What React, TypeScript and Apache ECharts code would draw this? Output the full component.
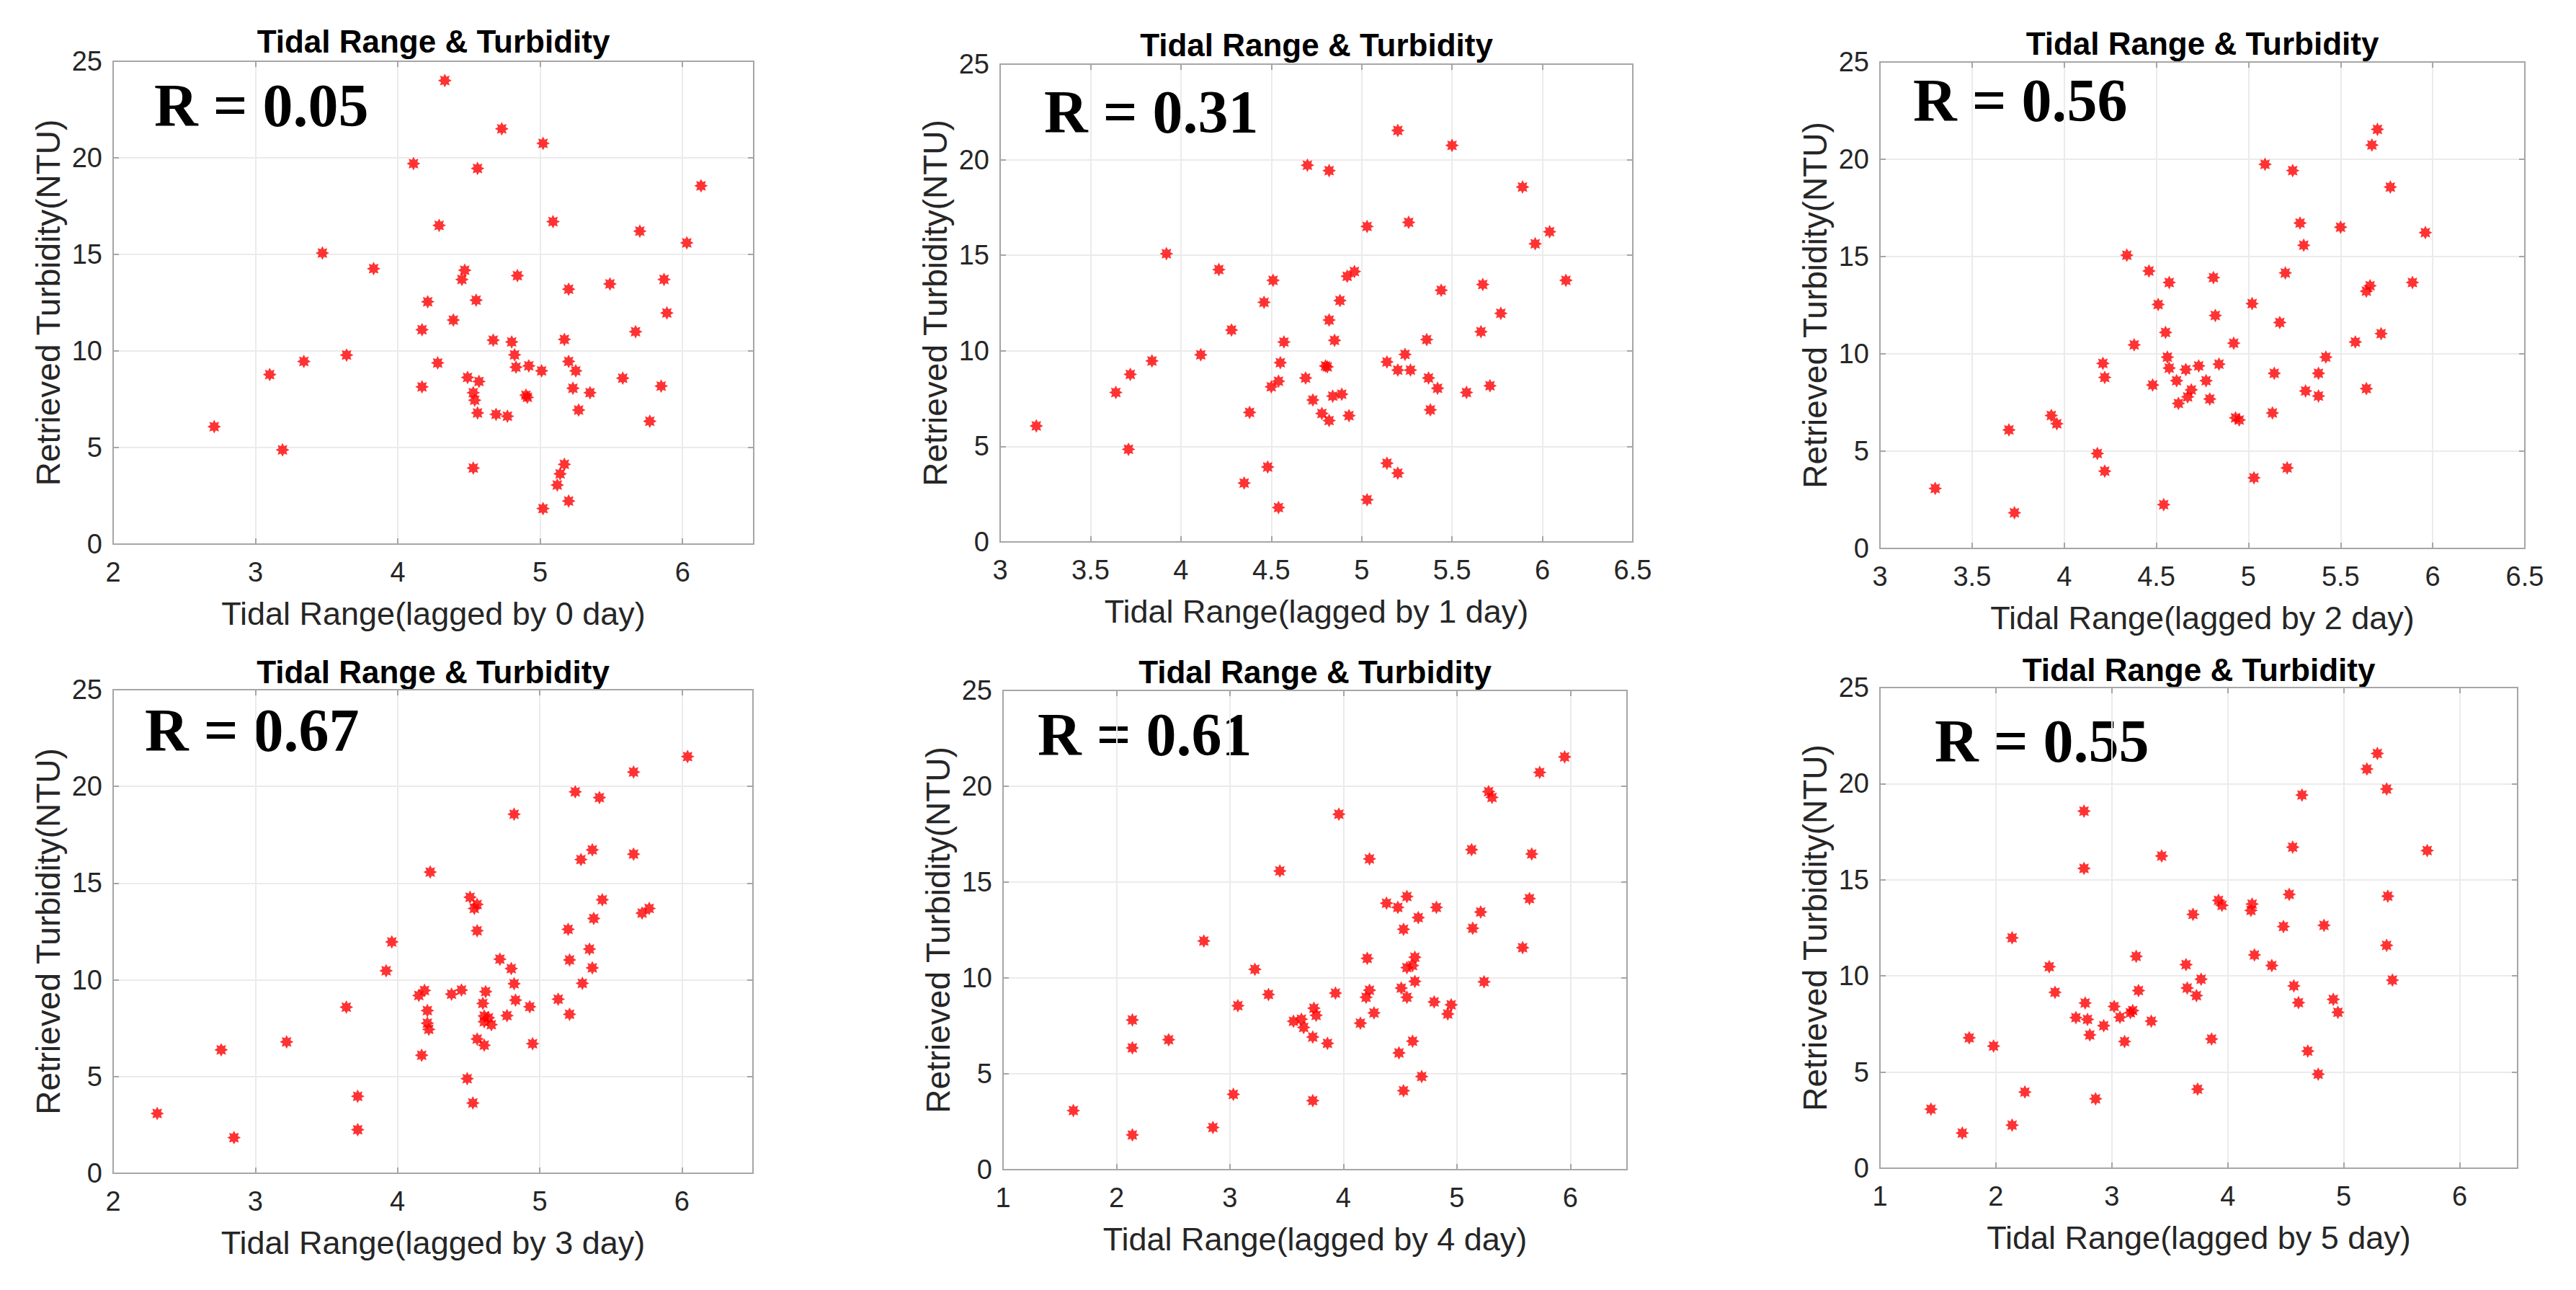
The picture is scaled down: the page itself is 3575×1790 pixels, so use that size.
import React, { useEffect, useRef } from "react";
import * as echarts from "echarts";

// ---------- data ----------
const lag0Tide = [4.33, 4.73, 5.02, 4.11, 4.56, 6.13, 5.09, 4.29, 5.70, 6.03, 3.47, 3.83, 4.47, 4.45, 4.84, 5.87, 5.49, 5.20, 4.21, 4.55, 5.89, 4.39, 4.17, 5.67, 4.67, 4.80, 5.17, 3.64, 4.82, 3.34, 5.20, 4.28, 4.92, 4.83, 5.01, 5.25, 3.10, 4.49, 4.57, 5.58, 4.17, 5.23, 5.85, 5.35, 4.90, 4.91, 4.53, 4.54, 4.56, 4.69, 4.77, 5.27, 5.77, 2.71, 3.19, 4.53, 5.17, 5.14, 5.12, 5.20, 5.02];
const lag0Turb = [24.0, 21.5, 20.75, 19.7, 19.45, 18.55, 16.7, 16.5, 16.2, 15.6, 15.07, 14.26, 14.18, 13.7, 13.9, 13.7, 13.47, 13.2, 12.55, 12.63, 11.97, 11.6, 11.1, 11.0, 10.56, 10.47, 10.6, 9.79, 9.8, 9.46, 9.46, 9.38, 9.23, 9.16, 8.97, 8.97, 8.78, 8.63, 8.42, 8.59, 8.14, 8.07, 8.18, 7.84, 7.71, 7.6, 7.84, 7.45, 6.79, 6.72, 6.62, 6.94, 6.36, 6.08, 4.88, 3.94, 4.13, 3.64, 3.06, 2.23, 1.84];

const lag1Tide = [5.20, 5.50, 4.70, 4.82, 5.89, 5.03, 5.26, 6.04, 5.96, 3.92, 4.21, 4.96, 4.92, 4.51, 6.13, 5.67, 5.44, 4.46, 4.88, 5.77, 4.82, 4.28, 5.66, 4.57, 4.85, 5.36, 4.11, 5.24, 3.84, 4.55, 5.14, 4.80, 4.81, 5.20, 5.27, 3.72, 4.69, 5.37, 4.54, 4.50, 5.42, 5.71, 3.64, 5.58, 4.84, 4.89, 4.73, 4.38, 4.78, 4.82, 4.93, 5.38, 3.20, 3.71, 4.48, 5.14, 5.20, 4.35, 5.03, 4.54];
const lag1Turb = [21.53, 20.75, 19.71, 19.43, 18.57, 16.51, 16.72, 16.23, 15.6, 15.08, 14.25, 14.15, 13.9, 13.69, 13.69, 13.47, 13.17, 12.54, 12.63, 11.96, 11.61, 11.09, 11.0, 10.46, 10.55, 10.59, 9.79, 9.81, 9.47, 9.38, 9.42, 9.21, 9.16, 8.99, 8.99, 8.77, 8.58, 8.58, 8.41, 8.12, 8.04, 8.17, 7.82, 7.82, 7.63, 7.73, 7.43, 6.78, 6.72, 6.35, 6.61, 6.91, 6.07, 4.85, 3.92, 4.12, 3.60, 3.08, 2.21, 1.80];

const lag2Tide = [5.70, 5.67, 5.09, 5.24, 5.77, 5.28, 5.50, 5.96, 5.30, 4.34, 4.46, 5.20, 4.81, 4.57, 5.89, 5.66, 5.64, 4.51, 5.02, 4.82, 5.17, 4.55, 5.72, 4.38, 4.92, 5.58, 4.56, 5.42, 4.21, 4.84, 4.73, 4.57, 4.66, 5.14, 5.38, 4.22, 4.61, 4.77, 4.48, 4.69, 5.31, 5.64, 4.67, 5.38, 4.79, 4.62, 5.13, 3.93, 3.96, 4.93, 4.95, 3.70, 4.18, 4.22, 5.21, 5.03, 3.30, 4.54, 3.73];
const lag2Turb = [21.54, 20.73, 19.74, 19.42, 18.57, 16.72, 16.51, 16.23, 15.58, 15.07, 14.26, 14.16, 13.92, 13.67, 13.67, 13.5, 13.22, 12.54, 12.58, 11.97, 11.61, 11.1, 11.04, 10.46, 10.55, 10.61, 9.83, 9.83, 9.51, 9.47, 9.38, 9.27, 9.19, 9.0, 9.0, 8.79, 8.62, 8.62, 8.4, 8.15, 8.09, 8.21, 7.79, 7.83, 7.68, 7.45, 6.96, 6.83, 6.41, 6.71, 6.6, 6.09, 4.88, 3.97, 4.14, 3.63, 3.08, 2.25, 1.83];

const lag3Tide = [6.04, 5.66, 5.25, 5.42, 4.82, 5.37, 5.66, 5.29, 4.23, 4.51, 5.44, 4.56, 4.54, 5.77, 5.72, 5.38, 4.56, 5.20, 3.96, 5.35, 4.72, 5.21, 3.92, 4.80, 5.37, 4.82, 5.30, 4.19, 4.45, 4.15, 4.38, 4.62, 5.13, 4.83, 3.64, 4.93, 4.21, 4.60, 4.77, 5.21, 4.61, 4.64, 4.61, 4.21, 4.66, 4.22, 4.56, 4.95, 3.22, 4.61, 4.17, 2.76, 4.49, 3.72, 4.53, 2.31, 3.72, 2.85];
const lag3Turb = [21.54, 20.74, 19.72, 19.42, 18.56, 16.72, 16.5, 16.22, 15.57, 14.27, 14.14, 13.9, 13.69, 13.69, 13.45, 13.17, 12.54, 12.61, 11.96, 11.59, 11.07, 11.03, 10.47, 10.58, 10.62, 9.8, 9.82, 9.45, 9.47, 9.19, 9.26, 9.39, 9.0, 8.95, 8.59, 8.61, 8.41, 8.78, 8.15, 8.22, 8.13, 8.04, 7.83, 7.76, 7.68, 7.44, 6.94, 6.7, 6.79, 6.62, 6.1, 6.38, 4.89, 3.98, 3.63, 3.09, 2.25, 1.84];

const lag4Tide = [5.95, 5.73, 5.28, 5.31, 3.96, 5.13, 5.66, 4.23, 3.44, 4.56, 5.64, 4.38, 4.48, 4.82, 5.21, 4.66, 4.53, 5.14, 2.77, 5.58, 4.21, 4.63, 3.22, 4.56, 4.61, 4.63, 5.24, 4.51, 4.23, 3.93, 3.34, 4.20, 4.56, 3.07, 4.80, 4.95, 3.74, 4.92, 3.76, 4.27, 3.56, 3.63, 3.65, 4.15, 3.73, 4.61, 2.46, 2.14, 3.86, 2.14, 4.49, 4.69, 3.03, 4.53, 3.73, 1.62, 2.85, 2.14];
const lag4Turb = [21.53, 20.72, 19.72, 19.42, 18.54, 16.69, 16.47, 16.21, 15.58, 14.25, 14.14, 13.9, 13.68, 13.68, 13.44, 13.15, 12.54, 12.59, 11.93, 11.58, 11.02, 11.08, 10.45, 10.54, 10.65, 9.82, 9.8, 9.47, 9.36, 9.21, 9.14, 8.99, 8.99, 8.55, 8.75, 8.6, 8.42, 8.12, 8.05, 8.18, 7.74, 7.85, 7.42, 7.64, 6.92, 6.7, 6.78, 6.35, 6.59, 7.81, 6.09, 4.86, 3.93, 4.12, 3.6, 3.08, 2.2, 1.81];

const lag5Tide = [5.29, 5.20, 5.37, 4.64, 2.76, 4.56, 5.72, 3.43, 2.76, 4.53, 5.38, 3.92, 3.95, 4.21, 4.20, 3.70, 4.48, 4.83, 2.14, 5.37, 3.21, 4.23, 2.46, 3.64, 4.38, 3.77, 5.42, 4.57, 3.65, 2.51, 3.23, 3.73, 4.91, 2.77, 4.61, 3.02, 4.95, 3.16, 3.18, 2.69, 2.79, 3.07, 3.34, 2.93, 2.81, 3.86, 3.11, 1.77, 1.98, 4.69, 4.78, 2.25, 3.74, 2.86, 1.44, 2.14, 1.71];
const lag5Turb = [21.57, 20.76, 19.72, 19.41, 18.57, 16.7, 16.52, 16.24, 15.59, 14.24, 14.15, 13.93, 13.67, 13.74, 13.41, 13.2, 12.57, 12.63, 11.98, 11.59, 11.02, 11.09, 10.48, 10.59, 10.54, 9.83, 9.78, 9.48, 9.37, 9.15, 9.24, 8.98, 8.78, 8.59, 8.61, 8.41, 8.11, 8.09, 8.2, 7.83, 7.74, 7.85, 7.65, 7.41, 6.93, 6.72, 6.59, 6.78, 6.35, 6.09, 4.89, 3.96, 4.11, 3.61, 3.07, 2.24, 1.83];

const correlations = ["0.05", "0.31", "0.56", "0.67", "0.61", "0.55"];
const lagDays = [0, 1, 2, 3, 4, 5];
const xMins = [2, 3, 3, 2, 1, 1];
const xMaxs = [6.5, 6.5, 6.5, 6.5, 6.5, 6.5];
const xSteps = [1, 0.5, 0.5, 1, 1, 1];
const yTicks = [0, 5, 10, 15, 20, 25];
const titleText = "Tidal Range & Turbidity";
const yName = "Retrieved Turbidity(NTU)";

const tides = [lag0Tide, lag1Tide, lag2Tide, lag3Tide, lag4Tide, lag5Tide];
const turbs = [lag0Turb, lag1Turb, lag2Turb, lag3Turb, lag4Turb, lag5Turb];

// ---------- layout ----------
const grids = [
  { left: 157, top: 85, width: 889, height: 670 },
  { left: 1388, top: 89, width: 878, height: 663 },
  { left: 2609, top: 86, width: 895, height: 675 },
  { left: 157, top: 957, width: 888, height: 671 },
  { left: 1392, top: 958, width: 866, height: 665 },
  { left: 2609, top: 954, width: 885, height: 667 },
];
const titleY = [57, 62, 60, 932, 932, 929];
const rPos = [
  [214, 146],
  [1449, 155],
  [2655, 139],
  [201, 1013],
  [1440, 1019],
  [2685, 1028],
];

const STAR =
  "path://M0,-1L0.23,-0.555L0.707,-0.707L0.555,-0.23L1,0L0.555,0.23L0.707,0.707L0.23,0.555L0,1L-0.23,0.555L-0.707,0.707L-0.555,0.23L-1,0L-0.555,-0.23L-0.707,-0.707L-0.23,-0.555Z";

const FONT = "Liberation Sans";
const TXT = "#262626";
const BOX = "#a6a6a6";

function buildOption() {
  const xAxis: any[] = [];
  const yAxis: any[] = [];
  const series: any[] = [];
  const graphic: any[] = [];
  grids.forEach((g, i) => {
    const base = {
      gridIndex: i,
      type: "value",
      min: xMins[i],
      max: xMaxs[i],
      interval: xSteps[i],
    };
    xAxis.push({
      ...base,
      position: "bottom",
      name: `Tidal Range(lagged by ${lagDays[i]} day)`,
      nameLocation: "middle",
      nameGap: 74,
      nameTextStyle: { fontFamily: FONT, fontSize: 45, color: TXT },
      axisLine: { show: true, onZero: false, lineStyle: { color: BOX, width: 2 } },
      axisTick: { show: true, inside: true, length: 8, lineStyle: { color: BOX, width: 2 } },
      axisLabel: {
        fontFamily: FONT,
        fontSize: 38,
        color: TXT,
        margin: 20,
        formatter: (v: number) => (v === xMaxs[i] && xMaxs[i] % xSteps[i] !== 0 ? "" : String(v)),
      },
      splitLine: { show: true, lineStyle: { color: "#ebebeb", width: 2 } },
    });
    xAxis.push({
      ...base,
      position: "top",
      axisLine: { show: true, onZero: false, lineStyle: { color: BOX, width: 2 } },
      axisTick: { show: true, inside: true, length: 8, lineStyle: { color: BOX, width: 2 } },
      axisLabel: { show: false },
      splitLine: { show: false },
    });
    const ybase = { gridIndex: i, type: "value", min: 0, max: 25, interval: 5 };
    yAxis.push({
      ...ybase,
      position: "left",
      name: yName,
      nameLocation: "middle",
      nameGap: 67,
      nameTextStyle: { fontFamily: FONT, fontSize: 46, color: TXT },
      axisLine: { show: true, onZero: false, lineStyle: { color: BOX, width: 2 } },
      axisTick: { show: true, inside: true, length: 8, lineStyle: { color: BOX, width: 2 } },
      axisLabel: {
        fontFamily: FONT,
        fontSize: 38,
        color: TXT,
        margin: 15,
        formatter: (v: number) => (yTicks.includes(v) ? String(v) : ""),
      },
      splitLine: { show: true, lineStyle: { color: "#ebebeb", width: 2 } },
    });
    yAxis.push({
      ...ybase,
      position: "right",
      axisLine: { show: true, onZero: false, lineStyle: { color: BOX, width: 2 } },
      axisTick: { show: true, inside: true, length: 8, lineStyle: { color: BOX, width: 2 } },
      axisLabel: { show: false },
      splitLine: { show: false },
    });
    series.push({
      type: "scatter",
      xAxisIndex: i * 2,
      yAxisIndex: i * 2,
      symbol: STAR,
      symbolSize: 19,
      itemStyle: { color: "#ff0000" },
      data: tides[i].map((t, k) => [t, turbs[i][k]]),
    });
    graphic.push({
      type: "text",
      x: g.left + g.width / 2,
      y: titleY[i],
      style: {
        text: titleText,
        font: `bold 44px "${FONT}"`,
        fill: "#000",
        align: "center",
        verticalAlign: "middle",
      },
    });
    graphic.push({
      type: "text",
      x: rPos[i][0],
      y: rPos[i][1],
      style: {
        text: `R = ${correlations[i]}`,
        font: `bold 84px "Liberation Serif"`,
        fill: "#000",
        align: "left",
        verticalAlign: "middle",
      },
    });
  });
  return {
    animation: false,
    backgroundColor: "#ffffff",
    grid: grids.map((g) => ({ ...g, containLabel: false })),
    xAxis,
    yAxis,
    series,
    graphic,
  };
}

export default function App() {
  const ref = useRef<HTMLDivElement>(null);
  useEffect(() => {
    document.body.style.margin = "0";
    if (!ref.current) return;
    const chart = echarts.init(ref.current, undefined, { renderer: "svg" });
    chart.setOption(buildOption() as any);
    return () => chart.dispose();
  }, []);
  return <div ref={ref} style={{ width: 3575, height: 1790, background: "#fff" }} />;
}
